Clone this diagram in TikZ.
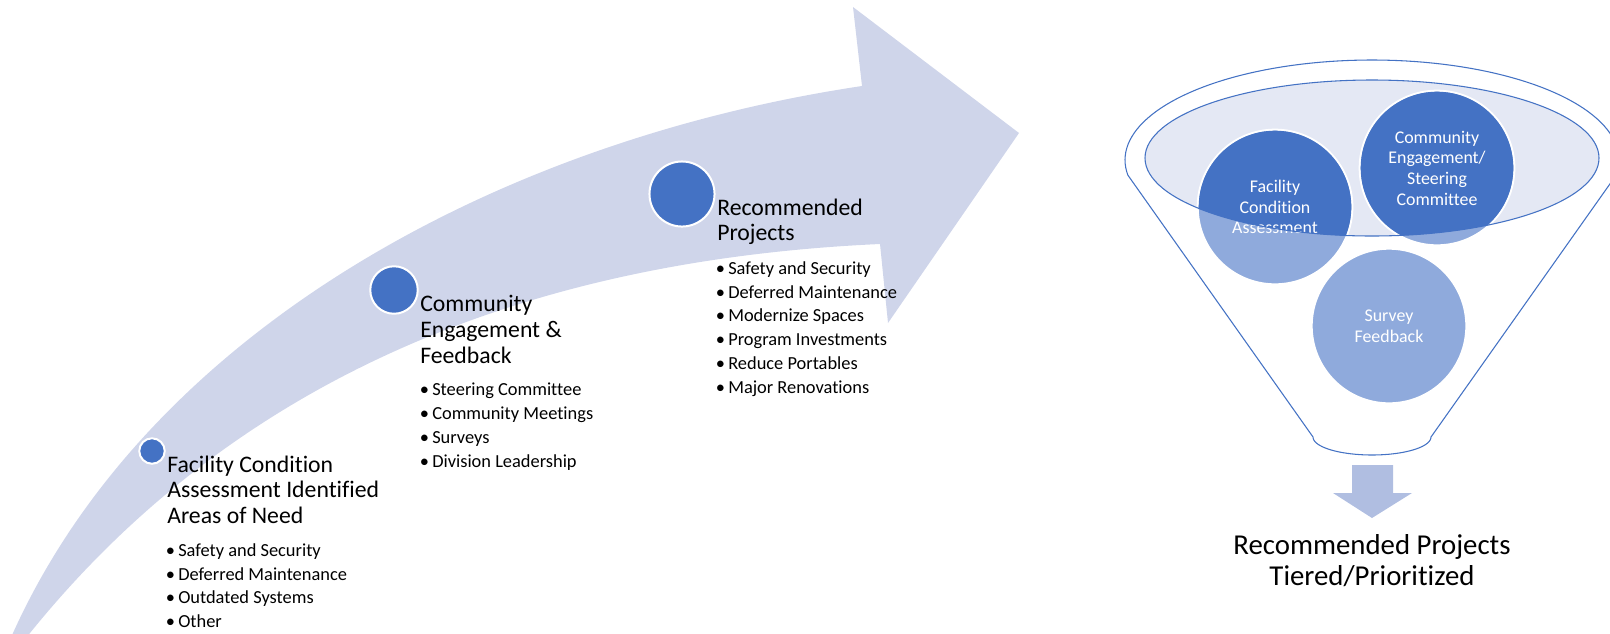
\documentclass[tikz,border=0pt]{standalone}
\usepackage{fontspec}
\setmainfont{Carlito}[Ligatures={NoCommon,NoContextual}]
\definecolor{band}{HTML}{CFD5EA}
\definecolor{accent}{HTML}{4472C4}
\definecolor{lightblue}{HTML}{8FAADC}
\definecolor{rimfill}{HTML}{E4E8F4}
\definecolor{downfill}{HTML}{B0BEE1}
\begin{document}
\begin{tikzpicture}[x=0.75pt, y=-0.75pt,
  head/.style={anchor=base west, inner sep=0pt, font=\fontsize{17.8}{21}\selectfont},
  item/.style={anchor=base west, inner sep=0pt, font=\fontsize{13.8}{16}\selectfont,
    execute at begin node={\llap{\textbullet\kern2.5pt}}},
  stepdot/.style={circle, fill=accent, draw=white, line width=1.5pt, inner sep=0pt},
  bubble/.style={circle, fill=lightblue, draw=white, line width=1.5pt, inner sep=0pt, minimum size=116pt},
  bubbletext/.style={align=center, text=white, inner sep=0pt, font=\fontsize{13.4}{15.5}\selectfont},
  caption/.style={anchor=base, inner sep=0pt, font=\fontsize{21.6}{26}\selectfont}]
\useasboundingbox (0,0) rectangle (1610,633);
\clip (0,0) rectangle (1610,633);

% curved progress arrow
\fill[band] (-9,681) -- (13,633) .. controls (150,330) and (500,140) .. (862,86)
  -- (853,7) -- (1019,133) -- (888,323) -- (880,244)
  .. controls (527,260) and (236,378) .. (30,633) -- cycle;

% milestones on the arrow
\node[stepdot, minimum size=19.1pt] (m1) at (152,451) {};
\node[stepdot, minimum size=35.6pt] (m2) at (394,290) {};
\node[stepdot, minimum size=48.8pt] (m3) at (682,194) {};

% stage 1 text
\foreach \t/\y [count=\i] in {Facility Condition/472, Assessment Identified/497.5, Areas of Need/523}
  \node[head] (ah\i) at (167,\y) {\t};
\foreach \t/\y [count=\i] in {Safety and Security/556.5, Deferred Maintenance/580, Outdated Systems/603.5, Other/627}
  \node[item] (ai\i) at (178,\y) {\t};

% stage 2 text
\foreach \t/\y [count=\i] in {Community/311, {Engagement \&}/337, Feedback/363}
  \node[head] (bh\i) at (420,\y) {\t};
\foreach \t/\y [count=\i] in {Steering Committee/395.5, Community Meetings/419.5, Surveys/443.5, Division Leadership/467.5}
  \node[item] (bi\i) at (432,\y) {\t};

% stage 3 text
\foreach \t/\y [count=\i] in {Recommended/215, Projects/240.5}
  \node[head] (ch\i) at (717,\y) {\t};
\foreach \t/\y [count=\i] in {Safety and Security/274, Deferred Maintenance/298, Modernize Spaces/321.5, Program Investments/345, Reduce Portables/369, Major Renovations/393}
  \node[item] (ci\i) at (728,\y) {\t};

% funnel body
\draw[accent, line width=0.8pt, fill=white]
  plot[domain=171.3:368.7, samples=90] ({1372+247*cos(\x)}, {160+100*sin(\x)})
  -- (1431,437)
  -- plot[domain=0:180, samples=40] ({1372+59*cos(\x)}, {437+18*sin(\x)})
  -- cycle;

% funnel rim
\fill[rimfill] (1372,158) ellipse [x radius=227, y radius=78];

% input bubbles
\node[bubble] (fca) at (1275,207) {};
\node[bubble] (ces) at (1437,168) {};
\node[bubble] (svf) at (1389,326) {};
\begin{scope}
  \clip (1372,158) ellipse [x radius=227, y radius=78];
  \fill[accent] (fca.center) circle [radius=76.3];
  \fill[accent] (ces.center) circle [radius=76.3];
\end{scope}
\node[bubbletext] (fcat) at (fca.center) {Facility\\Condition\\Assessment};
\node[bubbletext] (cest) at (ces.center) {Community\\Engagement/\\Steering\\Committee};
\node[bubbletext] (svft) at (svf.center) {Survey\\Feedback};
\draw[accent, line width=0.8pt] (1372,158) ellipse [x radius=227, y radius=78];

% funnel output
\fill[downfill] (1352,465) -- (1393,465) -- (1393,493) -- (1412,493) -- (1372,518) -- (1333,493) -- (1352,493) -- cycle;
\node[caption] (out1) at (1372,554) {Recommended Projects};
\node[caption] (out2) at (1372,585) {Tiered/Prioritized};
\end{tikzpicture}
\end{document}
